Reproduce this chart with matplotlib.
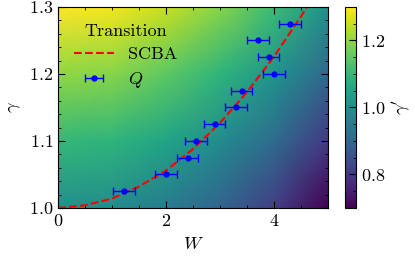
import numpy as np
import matplotlib
matplotlib.use("Agg")
import matplotlib.pyplot as plt
from matplotlib.ticker import MultipleLocator

plt.rcParams['font.family'] = 'serif'
plt.rcParams['font.serif'] = ['cmr10']
plt.rcParams['mathtext.fontset'] = 'cm'
plt.rcParams['axes.formatter.use_mathtext'] = True
plt.rcParams['font.size'] = 13

grid_W = [0, 1, 2, 3, 4, 5]
grid_gamma = [1.0, 1.1, 1.2, 1.3]
gamma_prime = [
    [1.00, 0.99, 0.95, 0.89, 0.81, 0.70],
    [1.10, 1.09, 1.05, 0.99, 0.91, 0.80],
    [1.20, 1.19, 1.15, 1.09, 1.01, 0.90],
    [1.30, 1.29, 1.25, 1.19, 1.11, 1.00],
]

# SCBA transition line
scba_W = [0, 0.5, 1, 1.5, 2, 2.5, 3, 3.5, 4, 4.5, 4.75]
scba_gamma = [1.0, 1.004, 1.014, 1.032, 1.056, 1.088, 1.127, 1.173, 1.226, 1.286, 1.318]

# Q transition points
q_W = [1.22, 2.0, 2.4, 2.55, 2.9, 3.3, 3.4, 4.0, 3.9, 3.7, 4.3]
q_gamma = [1.025, 1.05, 1.075, 1.1, 1.125, 1.15, 1.175, 1.2, 1.225, 1.25, 1.275]
q_err = [0.2] * 11

fig = plt.figure(figsize=(4.15, 2.59), dpi=100)
ax = fig.add_axes([0.1398, 0.197, 0.6506, 0.776])
cax = fig.add_axes([0.8313, 0.197, 0.0265, 0.776])

mesh = ax.pcolormesh(grid_W, grid_gamma, np.array(gamma_prime), cmap='viridis',
                     shading='gouraud', vmin=0.7, vmax=1.3, rasterized=True)

ax.plot(scba_W, scba_gamma, '--', color='red', lw=1.5, label='SCBA')
ax.errorbar(q_W, q_gamma, xerr=q_err, fmt='o', color='blue', ms=3.5,
            elinewidth=1, capsize=3, capthick=1, label=r'$Q$')

ax.set_xlim(0, 5)
ax.set_ylim(1.0, 1.3)
ax.xaxis.set_major_locator(MultipleLocator(2))
ax.xaxis.set_minor_locator(MultipleLocator(0.5))
ax.yaxis.set_major_locator(MultipleLocator(0.1))
ax.yaxis.set_minor_locator(MultipleLocator(0.02))
ax.tick_params(which='both', direction='in', top=True, right=True)
ax.tick_params(which='major', length=5)
ax.tick_params(which='minor', length=2.5)
ax.set_xlabel(r'$W$', labelpad=5)
ax.set_ylabel(r'$\gamma$')

leg = ax.legend(title='Transition', loc='upper left', frameon=False,
                handlelength=2.2, labelspacing=0.45, borderaxespad=0.5)

cb = fig.colorbar(mesh, cax=cax)
cb.set_ticks([0.8, 1.0, 1.2])
cb.ax.yaxis.set_minor_locator(MultipleLocator(0.05))
cb.ax.tick_params(which='both', direction='in')
cb.ax.tick_params(which='major', length=5)
cb.ax.tick_params(which='minor', length=2.5)
cb.set_label(r"$\gamma'$")
cb.outline.set_linewidth(0.8)

fig.savefig('out.png', dpi=100)
